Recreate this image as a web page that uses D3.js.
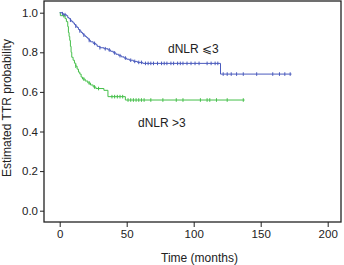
<!DOCTYPE html>
<html><head><meta charset="utf-8">
<script src="https://cdn.jsdelivr.net/npm/d3@7"></script>
<style>body{margin:0;background:#fff}svg{display:block}text{font-family:"Liberation Sans",Arial,sans-serif;fill:#222}</style>
</head><body><svg id="c" width="344" height="265"></svg>
<script>
const xTicks=[0,50,100,150,200];
const yTicks=[0,0.2,0.4,0.6,0.8,1.0];
const lowTimes=[0,2,3,5,6,7,8,9,10,11,12,13,14,15,16,17,18,19,20,21,22,23,25,27,28,30,33,36,38,40,42,44,46,48,50,52,55,58,62,120];
const lowSurv=[1.0,0.995,0.99,0.985,0.975,0.97,0.962,0.955,0.948,0.94,0.932,0.925,0.915,0.908,0.9,0.893,0.887,0.88,0.875,0.868,0.86,0.853,0.845,0.838,0.83,0.823,0.818,0.812,0.805,0.797,0.79,0.783,0.777,0.771,0.765,0.76,0.754,0.749,0.744,0.69];
const lowEnd=173;
const lowCensor=[2,4,8,12,15,18,22,26,30,34,37,41,45,49,53,56,59,61,64,66,68,70,73,76,78,80,83,85,88,90,92,95,98,101,104,110,113,116,118,122,125,128,132,137,147,159,164,168,172];
const highTimes=[0,0.5,4,5,6,6.5,7,7.5,8,8.5,9,10,11,12,13,14,15,16,17,19,21,23,25,27,33,36,49];
const highSurv=[1.0,0.985,0.97,0.955,0.93,0.9,0.88,0.86,0.83,0.8,0.775,0.76,0.745,0.73,0.715,0.70,0.69,0.675,0.665,0.655,0.645,0.635,0.625,0.617,0.608,0.576,0.559];
const highEnd=138;
const highCensor=[3,12,18,22,26,29,39,41,43,45,47,51,53,55,57,59,61,63,68,77,87,92,105,110,112,117,125,137];
const labels=["dNLR \u2A7D3","dNLR >3"];

const svg=d3.select("#c");
const x=d3.scaleLinear().domain([0,200]).range([59.7,327.7]);
const y=d3.scaleLinear().domain([0,1]).range([210.7,12.7]);
const box={l:44,r:341,t:1,b:222};
const fs="11.5px";

function stepFn(times,surv){
  return t=>{let s=surv[0];for(let i=0;i<times.length;i++){if(times[i]<=t)s=surv[i];}return s;};
}
function drawCurve(times,surv,end,cens,color){
  const pts=times.map((t,i)=>[t,surv[i]]);pts.push([end,surv[surv.length-1]]);
  const line=d3.line().x(d=>x(d[0])).y(d=>y(d[1])).curve(d3.curveStepAfter);
  svg.append("path").attr("d",line(pts)).attr("fill","none").attr("stroke",color).attr("stroke-width",1);
  const f=stepFn(times,surv);
  svg.append("g").selectAll("line").data(cens).join("line")
    .attr("x1",d=>x(d)).attr("x2",d=>x(d)).attr("y1",d=>y(f(d))-1.8).attr("y2",d=>y(f(d))+1.8)
    .attr("stroke",color).attr("stroke-width",1);
}
drawCurve(highTimes,highSurv,highEnd,highCensor,"#45bf4a");
drawCurve(lowTimes,lowSurv,lowEnd,lowCensor,"#4a5bbd");

svg.append("rect").attr("x",box.l).attr("y",box.t).attr("width",box.r-box.l).attr("height",box.b-box.t)
  .attr("fill","none").attr("stroke","#222").attr("stroke-width",1.3);

const ya=svg.append("g").attr("transform",`translate(${box.l},0)`)
  .call(d3.axisLeft(y).tickValues(yTicks).tickFormat(d3.format(".1f")).tickSize(4).tickPadding(2));
const xa=svg.append("g").attr("transform",`translate(0,${box.b})`)
  .call(d3.axisBottom(x).tickValues(xTicks).tickSize(5).tickPadding(3));
[ya,xa].forEach(a=>{a.select(".domain").remove();a.selectAll("line").attr("stroke","#222");
  a.selectAll("text").attr("font-size",fs).attr("font-family","Liberation Sans, Arial, sans-serif").attr("fill","#222");});

svg.append("text").attr("x",(box.l+box.r)/2+7).attr("y",262).attr("text-anchor","middle").attr("font-size","12px").text("Time (months)");
svg.append("text").attr("transform","translate(11,108) rotate(-90)").attr("text-anchor","middle").attr("font-size","12px").text("Estimated TTR probability");
svg.append("text").attr("x",168).attr("y",53).attr("font-size","12px").text(labels[0]);
svg.append("text").attr("x",138).attr("y",127).attr("font-size","12px").text(labels[1]);
</script></body></html>
